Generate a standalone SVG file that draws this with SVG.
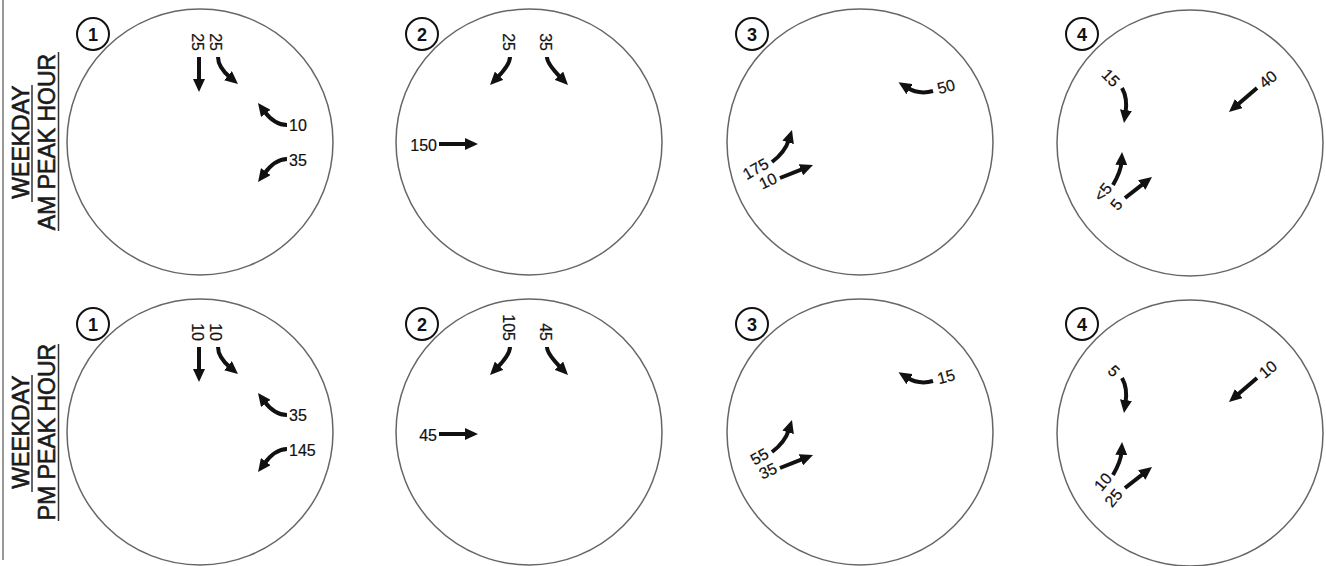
<svg xmlns="http://www.w3.org/2000/svg" width="1326" height="566" viewBox="0 0 1326 566">
  <style>
    .ring { fill: #fff; stroke: #666; stroke-width: 1.5; }
    .badge { fill: #fff; stroke: #111; stroke-width: 2; }
    .badge-num { font-family: "Liberation Sans", Arial, sans-serif; font-size: 18px; font-weight: bold; fill: #111; text-anchor: middle; }
    .vol { font-family: "Liberation Sans", Arial, sans-serif; font-size: 16px; fill: #111; stroke: #111; stroke-width: 0.2; }
    .title { font-family: "Liberation Sans", Arial, sans-serif; font-size: 23px; fill: #1a1a1a; stroke: #1a1a1a; stroke-width: 0.6; text-anchor: middle; }
    .rule { stroke: #333; stroke-width: 1.5; }
    .mv { fill: none; stroke: #111; stroke-width: 4; marker-end: url(#head); }
  </style>
  <defs>
    <marker id="head" viewBox="0 0 13 12" refX="3" refY="6" markerWidth="13" markerHeight="12" markerUnits="userSpaceOnUse" orient="auto">
      <path d="M0,0 L13,6 L0,12 z" fill="#111"/>
    </marker>
  </defs>

  <rect width="1326" height="566" fill="#fff"/>
  <line x1="3" y1="0" x2="3" y2="560" stroke="#777" stroke-width="1.5"/>

  <!-- row titles -->
  <g id="title-am">
    <text class="title" transform="translate(28.5,142) rotate(-90)">WEEKDAY</text>
    <line class="rule" x1="32" y1="85" x2="32" y2="202"/>
    <text class="title" transform="translate(55,142) rotate(-90)">AM PEAK HOUR</text>
    <line class="rule" x1="58.5" y1="52" x2="58.5" y2="231"/>
  </g>
  <g id="title-pm">
    <text class="title" transform="translate(28.5,432) rotate(-90)">WEEKDAY</text>
    <line class="rule" x1="32" y1="375" x2="32" y2="492"/>
    <text class="title" transform="translate(55,432) rotate(-90)">PM PEAK HOUR</text>
    <line class="rule" x1="58.5" y1="344" x2="58.5" y2="521"/>
  </g>

  <!-- AM intersections -->
  <g id="am-1">
    <circle class="ring" cx="200" cy="142" r="133"/>
    <circle class="badge" cx="93" cy="34" r="16"/>
    <text class="badge-num" x="93" y="40.5">1</text>
    <text class="vol" text-anchor="end" transform="translate(197.5,51) rotate(90)" y="5.7">25</text>
    <text class="vol" text-anchor="end" transform="translate(216,51) rotate(90)" y="5.7">25</text>
    <text class="vol" x="289" y="131">10</text>
    <text class="vol" x="289" y="166">35</text>
  </g>
  <g id="am-2">
    <circle class="ring" cx="529" cy="142" r="133"/>
    <circle class="badge" cx="422" cy="34" r="16"/>
    <text class="badge-num" x="422" y="40.5">2</text>
    <text class="vol" text-anchor="end" transform="translate(509,51) rotate(90)" y="5.7">25</text>
    <text class="vol" text-anchor="end" transform="translate(546,51) rotate(90)" y="5.7">35</text>
    <text class="vol" text-anchor="end" x="437" y="150.5">150</text>
  </g>
  <g id="am-3">
    <circle class="ring" cx="860" cy="142" r="133"/>
    <circle class="badge" cx="752" cy="34" r="16"/>
    <text class="badge-num" x="752" y="40.5">3</text>
    <text class="vol" text-anchor="middle" transform="translate(946,86.5) rotate(-15)" y="5.7">50</text>
    <text class="vol" text-anchor="end" transform="translate(767,162) rotate(-30)" y="5.7">175</text>
    <text class="vol" text-anchor="end" transform="translate(776,177) rotate(-25)" y="5.7">10</text>
  </g>
  <g id="am-4">
    <circle class="ring" cx="1190" cy="143" r="133"/>
    <circle class="badge" cx="1082" cy="34" r="16"/>
    <text class="badge-num" x="1082" y="40.5">4</text>
    <text class="vol" text-anchor="end" transform="translate(1117,84) rotate(45)" y="5.7">15</text>
    <text class="vol" text-anchor="start" transform="translate(1261,85) rotate(-40)" y="5.7">40</text>
    <text class="vol" text-anchor="end" transform="translate(1108.5,185) rotate(-50)" y="5.7">&lt;5</text>
    <text class="vol" text-anchor="end" transform="translate(1119,201) rotate(-50)" y="5.7">5</text>
  </g>

  <!-- PM intersections -->
  <g id="pm-1" transform="translate(0,290)">
    <circle class="ring" cx="200" cy="142" r="133"/>
    <circle class="badge" cx="93" cy="34" r="16"/>
    <text class="badge-num" x="93" y="40.5">1</text>
    <text class="vol" text-anchor="end" transform="translate(197.5,51) rotate(90)" y="5.7">10</text>
    <text class="vol" text-anchor="end" transform="translate(216,51) rotate(90)" y="5.7">10</text>
    <text class="vol" x="289" y="131">35</text>
    <text class="vol" x="289" y="166">145</text>
  </g>
  <g id="pm-2" transform="translate(0,290)">
    <circle class="ring" cx="529" cy="142" r="133"/>
    <circle class="badge" cx="422" cy="34" r="16"/>
    <text class="badge-num" x="422" y="40.5">2</text>
    <text class="vol" text-anchor="end" transform="translate(509,51) rotate(90)" y="5.7">105</text>
    <text class="vol" text-anchor="end" transform="translate(546,51) rotate(90)" y="5.7">45</text>
    <text class="vol" text-anchor="end" x="437" y="150.5">45</text>
  </g>
  <g id="pm-3" transform="translate(0,290)">
    <circle class="ring" cx="860" cy="142" r="133"/>
    <circle class="badge" cx="752" cy="34" r="16"/>
    <text class="badge-num" x="752" y="40.5">3</text>
    <text class="vol" text-anchor="middle" transform="translate(946,86.5) rotate(-15)" y="5.7">15</text>
    <text class="vol" text-anchor="end" transform="translate(767,162) rotate(-30)" y="5.7">55</text>
    <text class="vol" text-anchor="end" transform="translate(776,177) rotate(-25)" y="5.7">35</text>
  </g>
  <g id="pm-4" transform="translate(0,290)">
    <circle class="ring" cx="1190" cy="143" r="133"/>
    <circle class="badge" cx="1082" cy="34" r="16"/>
    <text class="badge-num" x="1082" y="40.5">4</text>
    <text class="vol" text-anchor="end" transform="translate(1117,84) rotate(45)" y="5.7">5</text>
    <text class="vol" text-anchor="start" transform="translate(1261,85) rotate(-40)" y="5.7">10</text>
    <text class="vol" text-anchor="end" transform="translate(1108.5,185) rotate(-50)" y="5.7">10</text>
    <text class="vol" text-anchor="end" transform="translate(1119,201) rotate(-50)" y="5.7">25</text>
  </g>

  <!-- turning-movement arrows -->
  <g id="connectors">
    <g id="am-moves">
      <path class="mv" d="M199,57 L199,82"/>
      <path class="mv" d="M218,57 Q218,67.3 230.3,77.6"/>
      <path class="mv" d="M287,125 Q274.5,125 264,111"/>
      <path class="mv" d="M287,159 Q275,159 264,174"/>
      <path class="mv" d="M510,57 Q510,64.6 497,77.9"/>
      <path class="mv" d="M547,57 Q547,63.6 561,77.9"/>
      <path class="mv" d="M439,144 L468,144"/>
      <path class="mv" d="M933,91 Q919,95 907,87.5"/>
      <path class="mv" d="M772,162 Q785,152.3 789,139.5"/>
      <path class="mv" d="M780,178 L803.7,168.7"/>
      <path class="mv" d="M1122,88 Q1127.8,98 1125.5,113"/>
      <path class="mv" d="M1257,88 L1236.6,105.5"/>
      <path class="mv" d="M1113,185 Q1121,171 1121.5,162"/>
      <path class="mv" d="M1125,198 L1144.1,183.1"/>
    </g>
    <g id="pm-moves" transform="translate(0,290)">
      <path class="mv" d="M199,57 L199,82"/>
      <path class="mv" d="M218,57 Q218,67.3 230.3,77.6"/>
      <path class="mv" d="M287,125 Q274.5,125 264,111"/>
      <path class="mv" d="M287,159 Q275,159 264,174"/>
      <path class="mv" d="M510,57 Q510,64.6 497,77.9"/>
      <path class="mv" d="M547,57 Q547,63.6 561,77.9"/>
      <path class="mv" d="M439,144 L468,144"/>
      <path class="mv" d="M933,91 Q919,95 907,87.5"/>
      <path class="mv" d="M772,162 Q785,152.3 789,139.5"/>
      <path class="mv" d="M780,178 L803.7,168.7"/>
      <path class="mv" d="M1122,88 Q1127.8,98 1125.5,113"/>
      <path class="mv" d="M1257,88 L1236.6,105.5"/>
      <path class="mv" d="M1113,185 Q1121,171 1121.5,162"/>
      <path class="mv" d="M1125,198 L1144.1,183.1"/>
    </g>
  </g>
</svg>
